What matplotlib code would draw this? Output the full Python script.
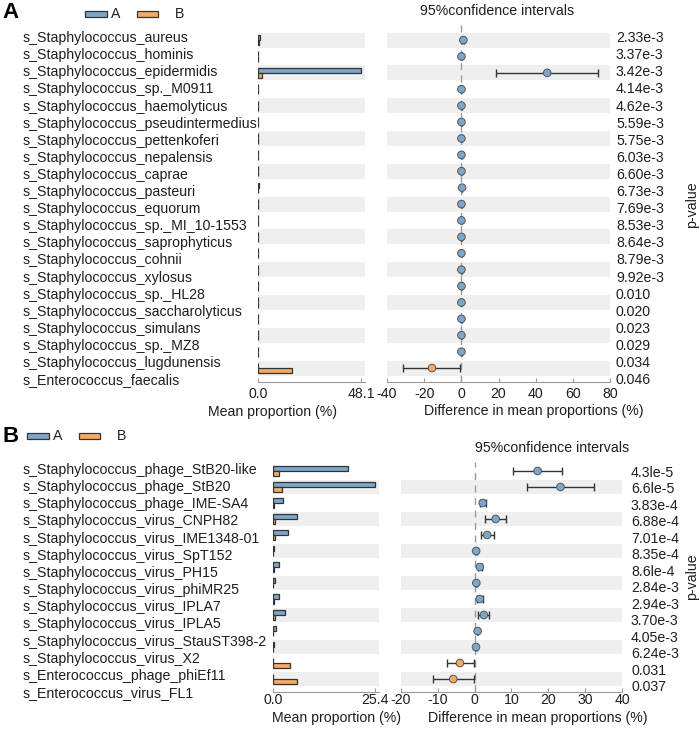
import numpy as np
import matplotlib
matplotlib.use('Agg')
from matplotlib import pyplot as plt
from matplotlib.patches import Rectangle
from matplotlib.transforms import blended_transform_factory

plt.rcParams['font.family'] = ['Liberation Sans', 'DejaVu Sans']
plt.rcParams['axes.unicode_minus'] = False

# ---- panel A data ----
labels_a = ['s_Staphylococcus_aureus', 's_Staphylococcus_hominis', 's_Staphylococcus_epidermidis',
            's_Staphylococcus_sp._M0911', 's_Staphylococcus_haemolyticus', 's_Staphylococcus_pseudintermedius',
            's_Staphylococcus_pettenkoferi', 's_Staphylococcus_nepalensis', 's_Staphylococcus_caprae',
            's_Staphylococcus_pasteuri', 's_Staphylococcus_equorum', 's_Staphylococcus_sp._MI_10-1553',
            's_Staphylococcus_saprophyticus', 's_Staphylococcus_cohnii', 's_Staphylococcus_xylosus',
            's_Staphylococcus_sp._HL28', 's_Staphylococcus_saccharolyticus', 's_Staphylococcus_simulans',
            's_Staphylococcus_sp._MZ8', 's_Staphylococcus_lugdunensis', 's_Enterococcus_faecalis']
mean_a_A = [0.8, 0.15, 48.1, 0.1, 0.2, 0.05, 0.2, 0.1, 0.15, 0.25, 0.1, 0.1, 0.15, 0.1, 0.1, 0.05, 0.1, 0.1, 0.05, 0.1, 0.0]
mean_a_B = [0.3, 0.05, 2.0, 0.02, 0.05, 0.02, 0.05, 0.02, 0.05, 0.05, 0.02, 0.02, 0.05, 0.02, 0.02, 0.02, 0.02, 0.02, 0.02, 0.05, 15.8]
diff_a = [1.1, 0.05, 46.2, 0.05, 0.05, 0.05, 0.05, 0.05, 0.05, 0.4, 0.05, 0.05, 0.05, 0.05, 0.05, 0.05, 0.05, 0.05, 0.05, 0.05, -15.8]
lo_a = [0.6, 0.0, 18.4, 0.0, 0.0, 0.0, 0.0, 0.0, 0.0, 0.2, 0.0, 0.0, 0.0, 0.0, 0.0, 0.0, 0.0, 0.0, 0.0, 0.0, -31.3]
hi_a = [1.6, 0.1, 73.6, 0.1, 0.1, 0.1, 0.1, 0.1, 0.1, 0.6, 0.1, 0.1, 0.1, 0.1, 0.1, 0.1, 0.1, 0.1, 0.1, 0.1, -0.5]
pvals_a = ['2.33e-3', '3.37e-3', '3.42e-3', '4.14e-3', '4.62e-3', '5.59e-3', '5.75e-3', '6.03e-3', '6.60e-3',
           '6.73e-3', '7.69e-3', '8.53e-3', '8.64e-3', '8.79e-3', '9.92e-3', '0.010', '0.020', '0.023',
           '0.029', '0.034', '0.046']
xt_bar_a = [0, 48.1]
xt_ci_a = [-40, -20, 0, 20, 40, 60, 80]

# ---- panel B data ----
labels_b = ['s_Staphylococcus_phage_StB20-like', 's_Staphylococcus_phage_StB20', 's_Staphylococcus_phage_IME-SA4',
            's_Staphylococcus_virus_CNPH82', 's_Staphylococcus_virus_IME1348-01', 's_Staphylococcus_virus_SpT152',
            's_Staphylococcus_virus_PH15', 's_Staphylococcus_virus_phiMR25', 's_Staphylococcus_virus_IPLA7',
            's_Staphylococcus_virus_IPLA5', 's_Staphylococcus_virus_StauST398-2', 's_Staphylococcus_virus_X2',
            's_Enterococcus_phage_phiEf11', 's_Enterococcus_virus_FL1']
mean_b_A = [18.6, 25.4, 2.5, 6.1, 3.8, 0.3, 1.6, 0.4, 1.6, 2.9, 0.8, 0.3, 0.05, 0.05]
mean_b_B = [1.5, 2.2, 0.2, 0.5, 0.4, 0.1, 0.2, 0.1, 0.3, 0.5, 0.1, 0.1, 4.2, 6.0]
diff_b = [17.1, 23.3, 2.2, 5.7, 3.4, 0.4, 1.4, 0.45, 1.4, 2.5, 0.8, 0.36, -4.0, -5.8]
lo_b = [10.5, 14.1, 1.4, 2.8, 1.7, 0.2, 1.0, 0.3, 0.7, 1.0, 0.6, 0.2, -7.6, -11.4]
hi_b = [23.6, 32.3, 3.2, 8.5, 5.2, 0.6, 1.9, 0.6, 2.2, 4.0, 1.0, 0.5, -0.2, -0.2]
pvals_b = ['4.3le-5', '6.6le-5', '3.83e-4', '6.88e-4', '7.01e-4', '8.35e-4', '8.6le-4', '2.84e-3',
           '2.94e-3', '3.70e-3', '4.05e-3', '6.24e-3', '0.031', '0.037']
xt_bar_b = [0, 25.4]
xt_ci_b = [-20, -10, 0, 10, 20, 30, 40]

BLUE = '#7ba7cc'
ORANGE = '#f5aa62'
STRIPE = '#efefef'
EDGE = '#333333'
TXT = '#1e1e1e'
FS = 10.2

W, H = 700, 729
fig = plt.figure(figsize=(W / 100, H / 100), dpi=100)


def fx(x):
    return x / W


def fy(y):
    return 1 - y / H


def px_axes(l, t, r, b):
    return fig.add_axes([fx(l), fy(b), (r - l) / W, (b - t) / H])


def style_axis(ax, pad):
    for s in ['top', 'right', 'left']:
        ax.spines[s].set_visible(False)
    ax.spines['bottom'].set_color('#9a9a9a')
    ax.spines['bottom'].set_linewidth(0.8)
    ax.set_yticks([])
    ax.tick_params(axis='x', direction='in', length=3, color='#9a9a9a', pad=pad,
                   labelsize=FS, labelcolor=TXT)


def draw_panel(labels, ma, mb, diff, lo, hi, pvals, xt_bar, xt_ci, box, ylim,
               lab_fit, p_fit, p_x, pad):
    n = len(labels)
    rows = np.arange(n)
    bl, br, cl, cr, top, bot = box
    ax1 = px_axes(bl, top, br, bot)
    ax2 = px_axes(cl, top, cr, bot)
    for ax in (ax1, ax2):
        ax.set_ylim(*ylim)
        for i in rows:
            if (n - 1 - i) % 2 == 0:
                ax.axhspan(i - 0.46, i + 0.46, color=STRIPE, zorder=0, lw=0)
        style_axis(ax, pad)

    # mean proportion bars
    ax1.barh(rows - 0.155, ma, height=0.31, color=BLUE, edgecolor=EDGE, linewidth=0.9, zorder=2)
    ax1.barh(rows + 0.155, mb, height=0.31, color=ORANGE, edgecolor=EDGE, linewidth=0.9, zorder=2)
    ax1.set_xlim(0, xt_bar[1] * (br - bl) / (br - bl - 4))
    ax1.set_xticks(xt_bar)
    ax1.set_xticklabels(['%.1f' % v for v in xt_bar])

    # confidence intervals
    diff = np.array(diff)
    lo = np.array(lo)
    hi = np.array(hi)
    ax2.axvline(0, color='#9a9a9a', lw=1, ls=(0, (5, 4)), zorder=1)
    ax2.errorbar(diff, rows, xerr=[diff - lo, hi - diff], fmt='none', ecolor='#333333',
                 elinewidth=1, capsize=3, capthick=1, zorder=3)
    cols = [BLUE if d > 0 else ORANGE for d in diff]
    ax2.scatter(diff, rows, s=30, c=cols, edgecolors='#555555', linewidths=0.7, zorder=4)
    ax2.set_xlim(xt_ci[0], xt_ci[-1])
    ax2.set_xticks(xt_ci)

    # row labels and p-values
    tr = blended_transform_factory(fig.transFigure, ax2.transData)
    for i, lab in enumerate(labels):
        fig.text(fx(23), lab_fit[0] + lab_fit[1] * i, lab, transform=tr, ha='left', va='center',
                 fontsize=FS, color=TXT)
    for i, p in enumerate(pvals):
        fig.text(fx(p_x), p_fit[0] + p_fit[1] * i, p, transform=tr, ha='left', va='center',
                 fontsize=FS, color=TXT)
    return ax1, ax2


def legend(x, y):
    fig.patches.append(Rectangle((fx(x), fy(y + 3)), 22 / W, 6 / H, transform=fig.transFigure,
                                 facecolor=BLUE, edgecolor=EDGE, lw=0.9))
    fig.text(fx(x + 26), fy(y), 'A', fontsize=FS, color=TXT, va='center', ha='left')
    fig.patches.append(Rectangle((fx(x + 52), fy(y + 3)), 21 / W, 6 / H, transform=fig.transFigure,
                                 facecolor=ORANGE, edgecolor=EDGE, lw=0.9))
    fig.text(fx(x + 90), fy(y), 'B', fontsize=FS, color=TXT, va='center', ha='left')


# Panel A
draw_panel(labels_a, mean_a_A, mean_a_B, diff_a, lo_a, hi_a, pvals_a, xt_bar_a, xt_ci_a,
           (258, 365, 387, 610, 23, 382), (20.85, -1.04),
           (-0.12, 1.043), (-0.12, 1.043), 616, 3.5)
fig.text(0.003, fy(12), 'A', fontsize=16, fontweight='bold', va='center', ha='left')
legend(85, 14)
fig.text(fx(497), fy(11), '95%confidence intervals', fontsize=FS, color=TXT, ha='center', va='center')
fig.text(fx(273), fy(412), 'Mean proportion (%)', fontsize=FS, color=TXT, ha='center', va='center')
fig.text(fx(534), fy(411), 'Difference in mean proportions (%)', fontsize=FS, color=TXT,
         ha='center', va='center')
fig.text(fx(692), fy(205), 'p-value', fontsize=FS, color=TXT, rotation=90, ha='center', va='center')

# Panel B
draw_panel(labels_b, mean_b_A, mean_b_B, diff_b, lo_b, hi_b, pvals_b, xt_bar_b, xt_ci_b,
           (273, 379, 401, 622, 462, 692), (13.81, -0.56),
           (-0.06, 1.072), (0.12, 1.029), 631, 1.0)
fig.text(0.003, fy(437), 'B', fontsize=16, fontweight='bold', va='center', ha='left')
legend(27, 436)
fig.text(fx(552), fy(448), '95%confidence intervals', fontsize=FS, color=TXT, ha='center', va='center')
fig.text(fx(337), fy(718), 'Mean proportion (%)', fontsize=FS, color=TXT, ha='center', va='center')
fig.text(fx(538), fy(718), 'Difference in mean proportions (%)', fontsize=FS, color=TXT,
         ha='center', va='center')
fig.text(fx(692), fy(577), 'p-value', fontsize=FS, color=TXT, rotation=90, ha='center', va='center')

fig.savefig('out.png', dpi=100)
